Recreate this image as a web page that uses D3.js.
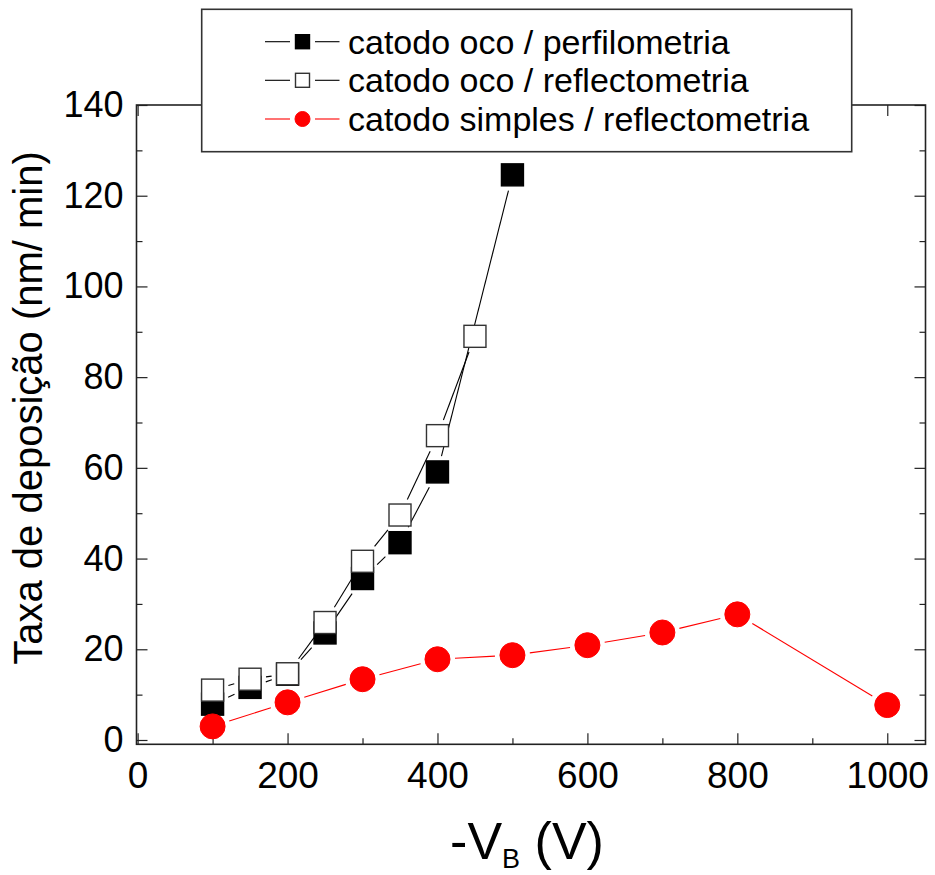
<!DOCTYPE html>
<html>
<head>
<meta charset="utf-8">
<script src="https://cdn.jsdelivr.net/npm/d3@7"></script>
<style>
  body { margin: 0; background: #fff; }
  svg { display: block; }
  text { font-family: "Liberation Sans", Arial, Helvetica, sans-serif; fill: #000; }
</style>
</head>
<body>
<svg id="chart" width="935" height="875"></svg>
<script>
// Deposition rate (nm/min) versus bias voltage -V_B (V)
const voltageOcoPerf = [100, 150, 200, 250, 300, 350, 400, 500];
const ocoPerfilometria = [7.9, 11.6, 14.5, 23.6, 35.6, 43.5, 59.1, 124.6];

const voltageOcoRefl = [100, 150, 200, 250, 300, 350, 400, 450];
const ocoReflectometria = [11.0, 13.4, 14.6, 25.9, 39.4, 49.6, 67.1, 89.0];

const voltageSimples = [100, 200, 300, 400, 500, 600, 700, 800, 1000];
const simplesReflectometria = [3.0, 8.3, 13.4, 17.8, 18.7, 20.9, 23.7, 27.7, 7.7];

const seriesNames = [
  "catodo oco / perfilometria",
  "catodo oco / reflectometria",
  "catodo simples / reflectometria"
];

const xMajorTicks = [0, 200, 400, 600, 800, 1000];
const xMinorTicks = [100, 300, 500, 700, 900];
const yMajorTicks = [0, 20, 40, 60, 80, 100, 120, 140];
const yMinorTicks = [10, 30, 50, 70, 90, 110, 130];

const xTitle = { main: "-V", sub: "B", tail: " (V)" };
const yTitle = "Taxa de deposição (nm/ min)";

// ---- layout ----
const plot = { left: 136.5, right: 925.5, top: 105, bottom: 744.3 };
const svg = d3.select("#chart");

const x = d3.scaleLinear().domain([-1.5, 1051]).range([plot.left, plot.right]);
const y = d3.scaleLinear().domain([-0.95, 140]).range([plot.bottom, plot.top]);

const MAJOR = 11, MINOR = 6;
const tickColor = "#222";

function styleAxis(g, showLabels, fontSize) {
  g.select(".domain").remove();
  g.selectAll(".tick line").attr("stroke", tickColor).attr("stroke-width", 1.2);
  if (!showLabels) g.selectAll(".tick text").remove();
  else g.selectAll(".tick text").style("font-size", fontSize + "px").attr("fill", "#000");
}

// bottom axis
svg.append("g").attr("transform", `translate(0,${plot.bottom})`)
  .call(d3.axisBottom(x).tickValues(xMajorTicks).tickSize(-MAJOR).tickPadding(17).tickFormat(d3.format("d")))
  .call(g => styleAxis(g, true, 37));
svg.append("g").attr("transform", `translate(0,${plot.bottom})`)
  .call(d3.axisBottom(x).tickValues(xMinorTicks).tickSize(-MINOR))
  .call(g => styleAxis(g, false));
// top axis
svg.append("g").attr("transform", `translate(0,${plot.top})`)
  .call(d3.axisTop(x).tickValues(xMajorTicks).tickSize(-MAJOR))
  .call(g => styleAxis(g, false));
svg.append("g").attr("transform", `translate(0,${plot.top})`)
  .call(d3.axisTop(x).tickValues(xMinorTicks).tickSize(-MINOR))
  .call(g => styleAxis(g, false));
// left axis
svg.append("g").attr("transform", `translate(${plot.left},0)`)
  .call(d3.axisLeft(y).tickValues(yMajorTicks).tickSize(-MAJOR).tickPadding(13).tickFormat(d3.format("d")))
  .call(g => styleAxis(g, true, 36));
svg.append("g").attr("transform", `translate(${plot.left},0)`)
  .call(d3.axisLeft(y).tickValues(yMinorTicks).tickSize(-MINOR))
  .call(g => styleAxis(g, false));
// right axis
svg.append("g").attr("transform", `translate(${plot.right},0)`)
  .call(d3.axisRight(y).tickValues(yMajorTicks).tickSize(-MAJOR))
  .call(g => styleAxis(g, false));
svg.append("g").attr("transform", `translate(${plot.right},0)`)
  .call(d3.axisRight(y).tickValues(yMinorTicks).tickSize(-MINOR))
  .call(g => styleAxis(g, false));

// frame
svg.append("rect")
  .attr("x", plot.left).attr("y", plot.top)
  .attr("width", plot.right - plot.left).attr("height", plot.bottom - plot.top)
  .attr("fill", "none").attr("stroke", "#222").attr("stroke-width", 1.6);

// ---- series ----
const SQ = 22;       // square marker side
const CR = 12.5;     // circle marker radius
const GAP = 5;       // gap between connecting line and marker edge

const series = [
  { name: seriesNames[0], xs: voltageOcoPerf, ys: ocoPerfilometria, shape: "square", fill: "#000", stroke: "#000", line: "#000" },
  { name: seriesNames[1], xs: voltageOcoRefl, ys: ocoReflectometria, shape: "square", fill: "#fff", stroke: "#333", line: "#000" },
  { name: seriesNames[2], xs: voltageSimples, ys: simplesReflectometria, shape: "circle", fill: "#ff0000", stroke: "#ff0000", line: "#ff0000" }
];

function edgeDistance(shape, ux, uy) {
  if (shape === "circle") return CR;
  return (SQ / 2) / Math.max(Math.abs(ux), Math.abs(uy));
}

function gappedSegments(s) {
  const pts = s.xs.map((v, i) => [x(v), y(s.ys[i])]);
  const segs = [];
  for (let i = 0; i < pts.length - 1; i++) {
    const [ax, ay] = pts[i], [bx, by] = pts[i + 1];
    const dx = bx - ax, dy = by - ay, L = Math.hypot(dx, dy);
    const ux = dx / L, uy = dy / L;
    const d = edgeDistance(s.shape, ux, uy) + GAP;
    if (L > 2 * d) segs.push([ax + ux * d, ay + uy * d, bx - ux * d, by - uy * d]);
  }
  return segs;
}

const linesG = svg.append("g");
series.forEach(s => {
  linesG.append("g").selectAll("line").data(gappedSegments(s)).join("line")
    .attr("x1", d => d[0]).attr("y1", d => d[1])
    .attr("x2", d => d[2]).attr("y2", d => d[3])
    .attr("stroke", s.line).attr("stroke-width", 1.1);
});

const markersG = svg.append("g");
series.forEach(s => {
  const g = markersG.append("g");
  const data = s.xs.map((v, i) => ({ v, r: s.ys[i] }));
  if (s.shape === "square") {
    g.selectAll("rect").data(data).join("rect")
      .attr("x", d => x(d.v) - SQ / 2).attr("y", d => y(d.r) - SQ / 2)
      .attr("width", SQ).attr("height", SQ)
      .attr("fill", s.fill).attr("stroke", s.stroke).attr("stroke-width", 1.4);
  } else {
    g.selectAll("circle").data(data).join("circle")
      .attr("cx", d => x(d.v)).attr("cy", d => y(d.r)).attr("r", CR)
      .attr("fill", s.fill).attr("stroke", s.stroke).attr("stroke-width", 1);
  }
});

// ---- legend ----
const legend = svg.append("g");
legend.append("rect")
  .attr("x", 201.7).attr("y", 9.3).attr("width", 650).attr("height", 142.4)
  .attr("fill", "#fff").attr("stroke", "#333").attr("stroke-width", 1.6);

const rowY = [41.7, 80.3, 119];
const LM = 14;
series.forEach((s, i) => {
  const row = legend.append("g").attr("transform", `translate(0,${rowY[i]})`);
  row.append("line").attr("x1", 265).attr("x2", 290).attr("y1", 0).attr("y2", 0)
    .attr("stroke", s.line).attr("stroke-width", 1.1);
  row.append("line").attr("x1", 315).attr("x2", 339.5).attr("y1", 0).attr("y2", 0)
    .attr("stroke", s.line).attr("stroke-width", 1.1);
  if (s.shape === "square") {
    row.append("rect").attr("x", 302.5 - LM / 2).attr("y", -LM / 2).attr("width", LM).attr("height", LM)
      .attr("fill", s.fill).attr("stroke", s.stroke).attr("stroke-width", 1.4);
  } else {
    row.append("circle").attr("cx", 302.5).attr("cy", 0).attr("r", 7.5)
      .attr("fill", s.fill).attr("stroke", s.stroke);
  }
  row.append("text").attr("x", 348).attr("y", 0).attr("dy", "0.35em")
    .style("font-size", "34px").text(s.name);
});

// ---- axis titles ----
const xt = svg.append("text").attr("x", 527).attr("y", 859).attr("text-anchor", "middle")
  .style("font-size", "52px");
xt.append("tspan").text(xTitle.main);
xt.append("tspan").attr("dy", 9).style("font-size", "27px").text(xTitle.sub);
xt.append("tspan").attr("dy", -9).text(xTitle.tail);

svg.append("text")
  .attr("transform", `translate(41.6,408) rotate(-90)`)
  .attr("text-anchor", "middle")
  .style("font-size", "40px")
  .text(yTitle);
</script>
</body>
</html>
